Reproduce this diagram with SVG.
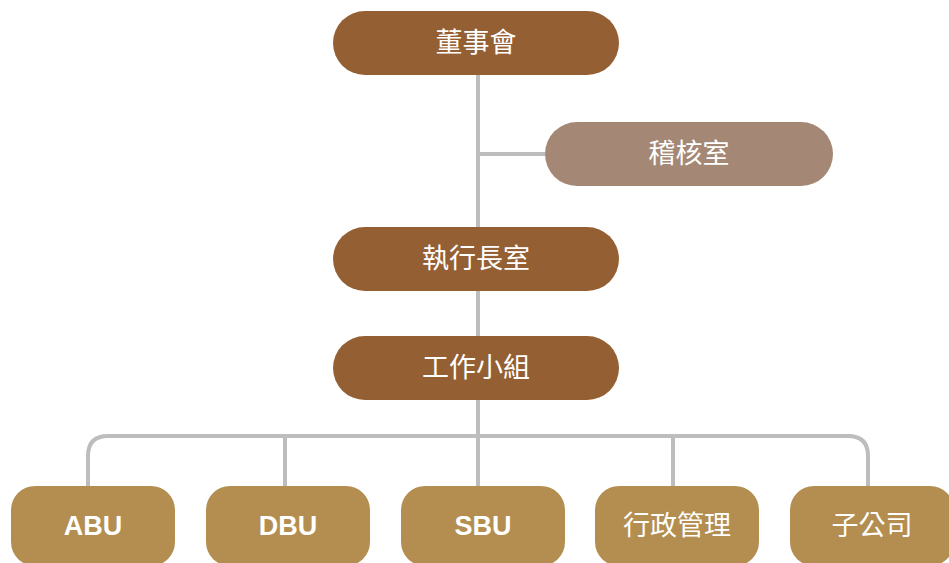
<svg xmlns="http://www.w3.org/2000/svg" width="949" height="563" viewBox="0 0 949 563">
<style>
.ln{fill:none;stroke:#BDBDBD;stroke-width:4}
.top{fill:#955F34}
.aud{fill:#A48875}
.bot{fill:#B38E50}
.t{font-family:"Liberation Sans","Noto Sans CJK TC",sans-serif;font-size:27px;fill:#fff;text-anchor:middle;dominant-baseline:central;font-weight:normal}
.b{font-weight:bold}
</style>
<rect width="949" height="563" fill="#fff"/>
<g id="connectors">
<path class="ln" d="M478,75 V486"/>
<path class="ln" d="M478,154 H545"/>
<path class="ln" d="M88,486 V456 Q88,436 108,436 H848 Q868,436 868,456 V486"/>
<path class="ln" d="M285,436 V486"/>
<path class="ln" d="M673,436 V486"/>
</g>
<g id="board"><rect class="top" x="333" y="11" width="286" height="64" rx="32"/><text class="t" x="476" y="43">董事會</text></g>
<g id="audit"><rect class="aud" x="545" y="122" width="288" height="64" rx="32"/><text class="t" x="689" y="154">稽核室</text></g>
<g id="ceo"><rect class="top" x="333" y="227" width="286" height="64" rx="32"/><text class="t" x="476" y="259">執行長室</text></g>
<g id="task"><rect class="top" x="333" y="336" width="286" height="64" rx="32"/><text class="t" x="476" y="368">工作小組</text></g>
<g id="abu"><rect class="bot" x="11" y="486" width="164" height="80" rx="24"/><text class="t b" x="93" y="526">ABU</text></g>
<g id="dbu"><rect class="bot" x="206" y="486" width="164" height="80" rx="24"/><text class="t b" x="288" y="526">DBU</text></g>
<g id="sbu"><rect class="bot" x="401" y="486" width="164" height="80" rx="24"/><text class="t b" x="483" y="526">SBU</text></g>
<g id="admin"><rect class="bot" x="595" y="486" width="164" height="80" rx="24"/><text class="t" x="677" y="526">行政管理</text></g>
<g id="sub"><rect class="bot" x="790" y="486" width="164" height="80" rx="24"/><text class="t" x="872" y="526">子公司</text></g>
</svg>
